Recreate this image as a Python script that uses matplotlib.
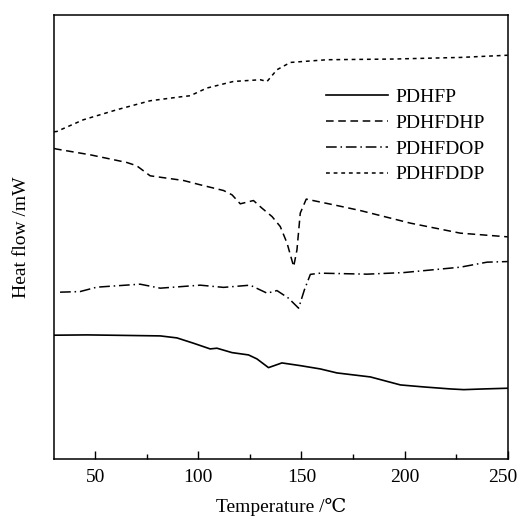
import numpy as np
import matplotlib
matplotlib.use("Agg")
import matplotlib.pyplot as plt
from matplotlib.ticker import MultipleLocator

plt.rcParams['font.family'] = ['Liberation Serif', 'DejaVu Serif', 'DejaVu Sans']

# DSC curves (temperature in C, heat flow in arbitrary units)
t_pdhfp = [30, 45.9, 57.2, 81.5, 89.6, 97.6, 105.7, 109, 116.3, 124.3, 128.4, 134,
           140.5, 149.4, 159.1, 167.2, 183.4, 198, 209.3, 222.2, 228.7, 238.4, 250]
hf_pdhfp = [123.7, 124, 123.7, 123, 121, 115.7, 110, 110.7, 106.3, 104, 100, 91.3,
            96, 93.3, 90, 86, 82, 74, 72, 70, 69.3, 70, 70.7]

t_pdhfdhp = [30, 31.3, 47.5, 65.3, 70.1, 76.6, 92.8, 100.9, 112.2, 116.3, 120.3, 126.7,
             130.8, 135.7, 139.7, 143, 146.2, 147.8, 149.4, 152.3, 165.6, 178.5, 202.8,
             227, 250]
hf_pdhfdhp = [310.3, 309.7, 304, 296.3, 293, 283, 278.3, 274, 268.3, 264, 255, 258.3,
              250.7, 242.3, 232.3, 215.7, 192.3, 209, 245.7, 259.7, 254, 248.3, 235.7,
              225.7, 222]

t_pdhfdop = [32.9, 42.6, 50.7, 71.7, 81.5, 100.9, 112.2, 125.1, 133.3, 138.1, 143.7,
             148.6, 151.4, 154.3, 159.1, 181.8, 199.6, 227.1, 240, 250]
hf_pdhfdop = [166.7, 167.3, 171.7, 174.7, 170.7, 173.7, 171.5, 173.7, 165.7, 168.3,
              160.7, 150.7, 169, 184.5, 185.7, 184.7, 186.3, 191.7, 196.7, 197.3]

t_pdhfddp = [30, 31.3, 44.2, 60.4, 76.6, 92.8, 96, 104.1, 117, 130, 133.3, 138.1, 144.6,
             162.4, 194.7, 227, 250]
hf_pdhfddp = [327, 327.3, 339, 349, 358, 362.3, 363, 370.7, 377.3, 379, 377.3, 389,
              396.3, 399, 399.7, 401.3, 403.5]

xticks = [50, 100, 150, 200, 250]

fig = plt.figure(figsize=(5.2, 5.16), dpi=100)
ax = fig.add_axes([0.104, 0.1105, 0.8723, 0.861])

ax.plot(t_pdhfp, hf_pdhfp, color='black', lw=1.2, ls='-', label='PDHFP')
ax.plot(t_pdhfdhp, hf_pdhfdhp, color='black', lw=1.1, ls=(0, (5, 3)), label='PDHFDHP')
ax.plot(t_pdhfdop, hf_pdhfdop, color='black', lw=1.1, ls=(0, (7, 2.5, 1, 2.5)), label='PDHFDOP')
ax.plot(t_pdhfddp, hf_pdhfddp, color='black', lw=1.1, ls=(0, (2.5, 2.5)), label='PDHFDDP')

ax.set_xlim(30, 250)
ax.set_ylim(0, 444)
# the last label sits a bit left of its tick in the original, so it is drawn by hand
ax.set_xticks(xticks, [str(v) for v in xticks[:-1]] + [''])
ax.annotate(str(xticks[-1]), xy=(xticks[-1], 0), xycoords=('data', 'axes fraction'),
            xytext=(-3.6, -7), textcoords='offset points', ha='center', va='top',
            fontsize=14, annotation_clip=False)
ax.xaxis.set_minor_locator(MultipleLocator(25))
ax.tick_params(axis='x', which='major', direction='in', length=6, width=1, labelsize=14, pad=7)
ax.tick_params(axis='x', which='minor', direction='in', length=3.5, width=1)
ax.tick_params(axis='x', top=False)
ax.set_yticks([])
for s in ax.spines.values():
    s.set_linewidth(1.1)

ax.set_xlabel('Temperature /℃', fontsize=14, labelpad=9)
ax.set_ylabel('Heat flow /mW', fontsize=14, labelpad=17)

ax.legend(loc='upper left', bbox_to_anchor=(0.6, 0.834), frameon=False, fontsize=14,
          handlelength=3.2, handletextpad=0.35, labelspacing=0.42, borderpad=0,
          borderaxespad=0)

fig.savefig('out.png', dpi=100)
